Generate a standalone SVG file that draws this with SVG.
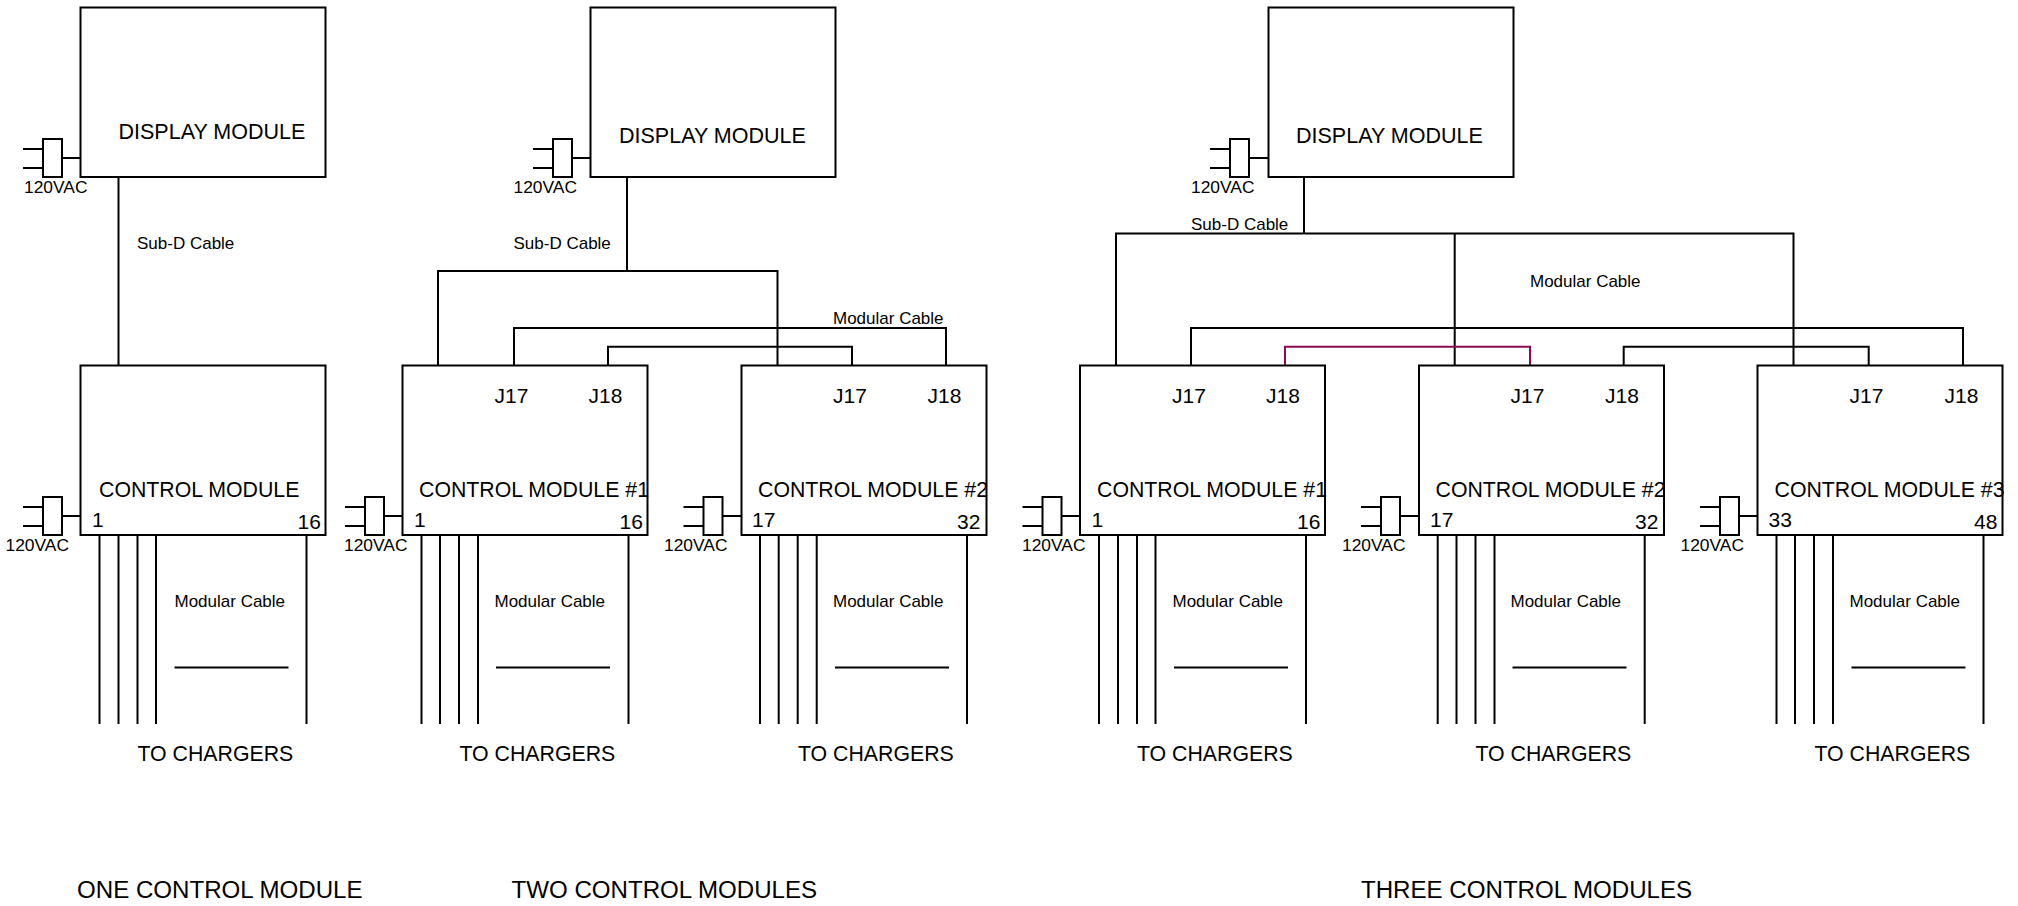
<svg xmlns="http://www.w3.org/2000/svg" width="2018" height="906" viewBox="0 0 2018 906">
<style>
text{font-family:"Liberation Sans",Arial,sans-serif;fill:#000}
.b{fill:#fff;stroke:#000;stroke-width:2}
.w{fill:none;stroke:#000;stroke-width:2}
.r{fill:none;stroke:#8e0a4e;stroke-width:2}
.d{font-size:21.5px}
.l{font-size:21.3px}
.c{font-size:24.1px}
.s{font-size:17px}
.p{font-size:21px}
.v{font-size:17.4px}
</style>
<defs>
<g id="plugshape">
<path class="w" d="M-20 10H0M-20 29H0M19 19H38"/>
<rect class="b" x="0" y="0" width="19" height="38"/>
</g>
</defs>
<g id="connectors">
<path class="w" d="M118.500 177V365.500"/>
<path class="w" d="M99.500 535V724M118.500 535V724M137.500 535V724M156 535V724M306.500 535V724M174.500 667.500H288.500"/>
<path class="w" d="M627 177V271M438 365.500V271H777.500V365.500M514 365.500V328H946V365.500M608 365.500V346.700H852V365.500"/>
<path class="w" d="M421.500 535V724M440 535V724M459 535V724M478 535V724M628.500 535V724M496 667.500H610"/>
<path class="w" d="M760 535V724M778.700 535V724M797.700 535V724M816.700 535V724M967 535V724M835 667.500H949"/>
<path class="w" d="M1304 177V233.500M1116 365.500V233.500H1793.500V365.500M1454.700 233.500V365.500M1191 365.500V328H1963V365.500M1623.700 365.500V346.700H1868.700V365.500"/>
<path class="r" d="M1285 365.500V346.700H1530V365.500"/>
<path class="w" d="M1099 535V724M1118 535V724M1137 535V724M1155.500 535V724M1306 535V724M1174 667.500H1288"/>
<path class="w" d="M1437.700 535V724M1456.500 535V724M1475.500 535V724M1494.500 535V724M1644.700 535V724M1512.500 667.500H1626.500"/>
<path class="w" d="M1776.500 535V724M1795 535V724M1814 535V724M1833 535V724M1983.500 535V724M1851.500 667.500H1965.500"/>
</g>
<g id="display1"><rect class="b" x="80.500" y="7.500" width="245" height="169.500"/><text class="d" x="118.500" y="139">DISPLAY MODULE</text></g>
<g id="plug-d1"><use href="#plugshape" x="43" y="139"/><text class="v" x="24" y="193">120VAC</text></g>
<text class="s" x="137" y="249">Sub-D Cable</text>
<g id="control1"><rect class="b" x="80.500" y="365.500" width="245" height="169.500"/><text class="l" x="99" y="497">CONTROL MODULE</text><text class="p" x="92" y="527">1</text><text class="p" x="297.500" y="529">16</text></g>
<g id="plug-c1"><use href="#plugshape" x="43" y="497"/><text class="v" x="5.500" y="551">120VAC</text></g>
<text class="s" x="174.500" y="607">Modular Cable</text>
<text class="l" x="137.500" y="761">TO CHARGERS</text>
<text class="c" x="77" y="898">ONE CONTROL MODULE</text>

<g id="display2"><rect class="b" x="590.500" y="7.500" width="245" height="169.500"/><text class="d" x="619" y="143">DISPLAY MODULE</text></g>
<g id="plug-d2"><use href="#plugshape" x="553" y="139"/><text class="v" x="513.500" y="193">120VAC</text></g>
<text class="s" x="513.500" y="249">Sub-D Cable</text>
<text class="s" x="833" y="324">Modular Cable</text>
<g id="control2-1"><rect class="b" x="402.500" y="365.500" width="245" height="169.500"/><text class="l" x="419" y="497">CONTROL MODULE #1</text><text class="p" x="494.500" y="403">J17</text><text class="p" x="588.500" y="403">J18</text><text class="p" x="414" y="527">1</text><text class="p" x="619.500" y="529">16</text></g>
<g id="plug-c2-1"><use href="#plugshape" x="365" y="497"/><text class="v" x="344" y="551">120VAC</text></g>
<text class="s" x="494.500" y="607">Modular Cable</text>
<text class="l" x="459.500" y="761">TO CHARGERS</text>
<g id="control2-2"><rect class="b" x="741.500" y="365.500" width="245" height="169.500"/><text class="l" x="758" y="497">CONTROL MODULE #2</text><text class="p" x="833" y="403">J17</text><text class="p" x="927.500" y="403">J18</text><text class="p" x="752" y="527">17</text><text class="p" x="957" y="529">32</text></g>
<g id="plug-c2-2"><use href="#plugshape" x="703.500" y="497"/><text class="v" x="664" y="551">120VAC</text></g>
<text class="s" x="833" y="607">Modular Cable</text>
<text class="l" x="798" y="761">TO CHARGERS</text>
<text class="c" x="511.500" y="898">TWO CONTROL MODULES</text>

<g id="display3"><rect class="b" x="1268.500" y="7.500" width="245" height="169.500"/><text class="d" x="1296" y="143">DISPLAY MODULE</text></g>
<g id="plug-d3"><use href="#plugshape" x="1230" y="139"/><text class="v" x="1191" y="193">120VAC</text></g>
<text class="s" x="1191" y="230">Sub-D Cable</text>
<text class="s" x="1530" y="287">Modular Cable</text>
<g id="control3-1"><rect class="b" x="1080" y="365.500" width="245" height="169.500"/><text class="l" x="1097" y="497">CONTROL MODULE #1</text><text class="p" x="1172" y="403">J17</text><text class="p" x="1266" y="403">J18</text><text class="p" x="1091.500" y="527">1</text><text class="p" x="1297" y="529">16</text></g>
<g id="plug-c3-1"><use href="#plugshape" x="1042.500" y="497"/><text class="v" x="1022" y="551">120VAC</text></g>
<text class="s" x="1172.500" y="607">Modular Cable</text>
<text class="l" x="1137" y="761">TO CHARGERS</text>
<g id="control3-2"><rect class="b" x="1419" y="365.500" width="245" height="169.500"/><text class="l" x="1435.500" y="497">CONTROL MODULE #2</text><text class="p" x="1510.500" y="403">J17</text><text class="p" x="1605" y="403">J18</text><text class="p" x="1430" y="527">17</text><text class="p" x="1635" y="529">32</text></g>
<g id="plug-c3-2"><use href="#plugshape" x="1381" y="497"/><text class="v" x="1342" y="551">120VAC</text></g>
<text class="s" x="1510.500" y="607">Modular Cable</text>
<text class="l" x="1475.500" y="761">TO CHARGERS</text>
<g id="control3-3"><rect class="b" x="1757.500" y="365.500" width="245" height="169.500"/><text class="l" x="1774.500" y="497">CONTROL MODULE #3</text><text class="p" x="1849.500" y="403">J17</text><text class="p" x="1944.500" y="403">J18</text><text class="p" x="1768.500" y="527">33</text><text class="p" x="1974" y="529">48</text></g>
<g id="plug-c3-3"><use href="#plugshape" x="1720" y="497"/><text class="v" x="1680.500" y="551">120VAC</text></g>
<text class="s" x="1849.500" y="607">Modular Cable</text>
<text class="l" x="1814.500" y="761">TO CHARGERS</text>
<text class="c" x="1361" y="898">THREE CONTROL MODULES</text>
</svg>
